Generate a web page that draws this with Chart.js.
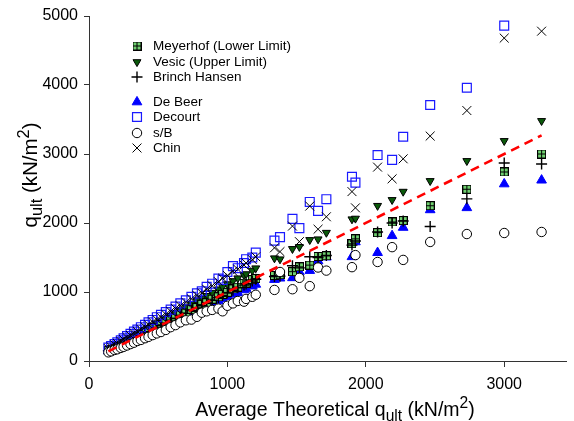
<!DOCTYPE html>
<html>
<head>
<meta charset="utf-8">
<script src="https://cdn.jsdelivr.net/npm/chart.js@4"></script>
<style>
  body { margin: 0; background: #fff; }
</style>
</head>
<body>
<canvas id="qultChart" width="574" height="421"></canvas>
<script>
// average theoretical q_ult (kN/m2), one per pile
const theoretical = [140,160,185,205,230, 250,275,300,325,350, 375,405,430,460,490, 520,555,590,625,660,
  700,740,780,815,850, 890,935,965,1000,1040, 1075,1120,1135,1180,1205, 1340,1380,1470,1520,1595,
  1655,1715,1900,1925,2085, 2190,2270,2465,2730,3000, 3270];

const meyerhof = [150,170,185,210,230, 255,270,305,320,355, 370,410,425,465,485, 525,550,595,620,665,
  695,745,775,820,845, 895,930,965,995,1045, 1070,1125,1130,1180,1195, 1240,1250,1295,1365,1390,
  1515,1525,1700,1770,1860, 2015,2035,2250,2490,2740, 3000];
const vesic = [165,185,210,230,255, 280,305,335,360,390, 415,450,480,510,545, 575,615,655,695,735,
  780,825,870,905,945, 990,1040,1075,1115,1160, 1200,1245,1260,1310,1345, 1490,1475,1625,1655,1755,
  1765,1860,2055,2065,2250, 2335,2455,2610,2900,3190, 3480];
const brinchHansen = [150,160,185,200,225, 245,270,295,320,345, 370,400,425,455,485, 515,545,580,615,650,
  690,730,770,800,840, 880,920,950,985,1025, 1060,1100,1115,1160,1185, 1225,1230,1380,1350,1510,
  1500,1530,1680,1740,1870, 2000,2030,1950,2350,2870, 2855];
const deBeer = [145,160,180,195,220, 235,260,280,305,330, 350,380,405,430,460, 490,520,555,590,615,
  655,690,725,760,790, 830,870,900,930,965, 990,1030,1050,1085,1110, 1180,1200,1205,1290,1310,
  1450,1505,1510,1725,1570, 1815,1935,2190,2220,2565, 2620];
const decourt = [195,215,245,270,300, 330,360,395,425,455, 490,525,560,595,635, 670,710,745,790,835,
  880,930,980,1010,1075, 1120,1195,1175,1290,1375, 1345,1420,1475,1500,1570, 1745,1795,2060,1925,2305,
  2175,2345,2670,2585,2985, 2915,3250,3710,3960,4860, null];
const sOverB = [125,140,160,170,190, 205,225,245,265,290, 305,330,350,375,400, 420,450,490,520,560,
  590,600,640,700,720, 740,760,720,800,835, 870,860,900,930,960, 1030,1290,1040,1205,1085,
  1355,1310,1360,1535,1435, 1650,1465,1725,1840,1855, 1870];
const chin = [180,205,235,255,285, 310,340,370,400,430, 460,495,525,565,600, 635,675,720,760,800,
  850,900,950,985,1040, 1090,1150,1200,1240,1300, 1330,1390,1420,1470,1510, 1640,1585,1955,1730,2245,
  1910,2090,2455,2220,2810, 2640,2930,3260,3630,4680, 4780];

const equality = [140, 3270];
const xTicks = [0, 1000, 2000, 3000];
const yTicks = [0, 1000, 2000, 3000, 4000, 5000];

const FONT = 'Arial, "Liberation Sans", sans-serif';

function pts(ys) {
  return theoretical.map((x, i) => ({ x: x, y: ys[i] })).filter(p => p.y != null);
}

// green square with black grid for Meyerhof
const gridBox = document.createElement('canvas');
gridBox.width = 9; gridBox.height = 9;
(function () {
  const g = gridBox.getContext('2d');
  g.fillStyle = '#6fcf6f';
  g.fillRect(0, 0, 9, 9);
  g.strokeStyle = '#000';
  g.lineWidth = 1;
  g.strokeRect(0.5, 0.5, 8, 8);
  g.beginPath();
  g.moveTo(4.5, 0); g.lineTo(4.5, 9);
  g.moveTo(0, 4.5); g.lineTo(9, 4.5);
  g.stroke();
})();

const series = [
  { label: 'Meyerhof (Lower Limit)', data: meyerhof, style: gridBox, r: 4.5, fill: '#6fcf6f', line: '#000', bw: 1 },
  { label: 'Vesic (Upper Limit)', data: vesic, style: 'triangle', rot: 180, r: 4.6, fill: '#0a5a0a', line: '#000', bw: 1 },
  { label: 'Brinch Hansen', data: brinchHansen, style: 'cross', r: 5.5, fill: '#000', line: '#000', bw: 1.4 },
  { label: 'De Beer', data: deBeer, style: 'triangle', r: 5.6, fill: '#0000ff', line: '#0000ff', bw: 1 },
  { label: 'Decourt', data: decourt, style: 'rect', r: 6.3, fill: 'rgba(0,0,0,0)', line: '#1a1aff', bw: 1.2 },
  { label: 's/B', data: sOverB, style: 'circle', r: 4.7, fill: '#fff', line: '#000', bw: 1 },
  { label: 'Chin', data: chin, style: 'crossRot', r: 6.3, fill: '#000', line: '#000', bw: 1 }
];

// lower value = drawn later (on top)
const drawOrder = [6, 7, 4, 8, 3, 1, 2];

const datasets = [{
  type: 'scatter',
  showLine: true,
  label: 'equality',
  data: equality.map(v => ({ x: v, y: v })),
  borderColor: '#ff0000',
  backgroundColor: '#ff0000',
  borderWidth: 2.6,
  borderDash: [9, 6],
  pointRadius: 0,
  order: 0
}];

series.forEach((s, i) => datasets.push({
  label: s.label,
  data: pts(s.data),
  pointStyle: s.style,
  pointRotation: s.rot || 0,
  pointRadius: s.r,
  backgroundColor: s.fill,
  borderColor: s.line,
  borderWidth: s.bw,
  order: drawOrder[i]
}));

const legendRows = [46, 62, 77, 102, 117, 133, 148];

const legendPlugin = {
  id: 'insideLegend',
  afterDraw(chart) {
    const ctx = chart.ctx;
    ctx.save();
    series.forEach((s, i) => {
      const y = legendRows[i];
      ctx.fillStyle = s.fill;
      ctx.strokeStyle = s.line;
      ctx.lineWidth = s.bw;
      Chart.helpers.drawPoint(ctx, { pointStyle: s.style, rotation: s.rot || 0, radius: s.r, borderWidth: s.bw }, 137, y);
      ctx.fillStyle = '#000';
      ctx.font = '13.5px ' + FONT;
      ctx.textBaseline = 'middle';
      ctx.textAlign = 'left';
      ctx.fillText(s.label, 153, y);
    });
    ctx.restore();
  }
};

function richText(ctx, parts, size) {
  let w = 0;
  parts.forEach(p => {
    ctx.font = (size * (p.scale || 1)) + 'px ' + FONT;
    p.w = ctx.measureText(p.t).width;
    w += p.w;
  });
  let x = -w / 2;
  parts.forEach(p => {
    ctx.font = (size * (p.scale || 1)) + 'px ' + FONT;
    ctx.fillText(p.t, x, p.dy || 0);
    x += p.w;
  });
}

const titlePlugin = {
  id: 'axisTitles',
  afterDraw(chart) {
    const ctx = chart.ctx;
    ctx.save();
    ctx.fillStyle = '#000';
    ctx.textBaseline = 'alphabetic';
    ctx.textAlign = 'left';
    ctx.translate(335, 416);
    richText(ctx, [
      { t: 'Average Theoretical q' },
      { t: 'ult', scale: 0.8, dy: 5 },
      { t: ' (kN/m' },
      { t: '2', scale: 0.8, dy: -8 },
      { t: ')' }
    ], 19.5);
    ctx.restore();

    ctx.save();
    ctx.fillStyle = '#000';
    ctx.textBaseline = 'alphabetic';
    ctx.textAlign = 'left';
    ctx.translate(37, 175);
    ctx.rotate(-Math.PI / 2);
    richText(ctx, [
      { t: 'q' },
      { t: 'ult', scale: 0.8, dy: 5 },
      { t: ' (kN/m' },
      { t: '2', scale: 0.8, dy: -8 },
      { t: ')' }
    ], 20.5);
    ctx.restore();
  }
};

new Chart(document.getElementById('qultChart'), {
  type: 'scatter',
  data: { datasets: datasets },
  plugins: [legendPlugin, titlePlugin],
  options: {
    responsive: false,
    animation: false,
    layout: { padding: { top: 16, right: 0, left: 0, bottom: 0 } },
    plugins: { legend: { display: false }, tooltip: { enabled: false } },
    scales: {
      x: {
        type: 'linear',
        min: 0,
        max: 3450,
        afterBuildTicks: s => { s.ticks = xTicks.map(v => ({ value: v })); },
        afterFit: s => { s.height = 60; },
        ticks: { color: '#000', font: { family: FONT, size: 16 }, padding: 8, callback: v => String(v) },
        grid: { drawOnChartArea: false, tickLength: 6, color: '#333' },
        border: { color: '#333', width: 1 }
      },
      y: {
        type: 'linear',
        min: 0,
        max: 5000,
        afterBuildTicks: s => { s.ticks = yTicks.map(v => ({ value: v })); },
        afterFit: s => { s.width = 89; },
        ticks: { color: '#000', font: { family: FONT, size: 16 }, padding: 6, callback: v => String(v) },
        grid: { drawOnChartArea: false, tickLength: 5, color: '#333' },
        border: { color: '#333', width: 1 }
      }
    }
  }
});
</script>
</body>
</html>
